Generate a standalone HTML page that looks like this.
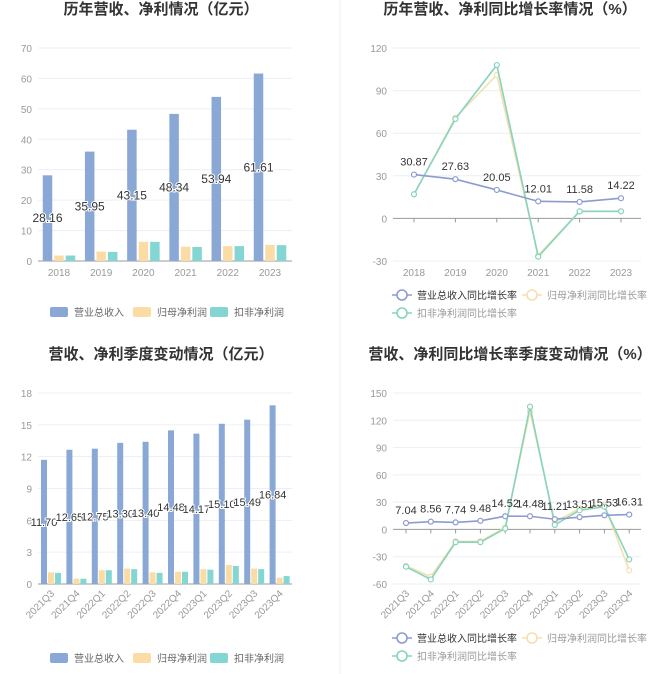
<!DOCTYPE html>
<html><head><meta charset="utf-8"><style>
html,body{margin:0;padding:0;background:#fff;}
svg{display:block;font-family:"Liberation Sans","Noto Sans CJK SC",sans-serif;}
</style></head><body>
<svg id="c" width="670" height="674" viewBox="0 0 670 674" xmlns="http://www.w3.org/2000/svg"></svg>
<script>
// Chart 1 data
const years=["2018","2019","2020","2021","2022","2023"];
const revAnnual=[28.16,35.95,43.15,48.34,53.94,61.61];
const npAnnual=[1.8,3.1,6.3,4.7,4.9,5.3];
const dnpAnnual=[1.8,3.0,6.3,4.6,4.9,5.2];
const ticks1=[0,10,20,30,40,50,60,70];
// Chart 2 data
const revGrowth=[30.87,27.63,20.05,12.01,11.58,14.22];
const npGrowth=[17,71,101,-26,5,5];
const dnpGrowth=[17,70,108,-27,5,5];
const ticks2=[-30,0,30,60,90,120];
// Chart 3 data
const quarters=["2021Q3","2021Q4","2022Q1","2022Q2","2022Q3","2022Q4","2023Q1","2023Q2","2023Q3","2023Q4"];
const revQ=[11.70,12.65,12.75,13.30,13.40,14.48,14.17,15.10,15.49,16.84];
const npQ=[1.1,0.5,1.3,1.45,1.1,1.15,1.4,1.8,1.45,0.6];
const dnpQ=[1.05,0.5,1.3,1.4,1.05,1.15,1.35,1.7,1.4,0.75];
const ticks3=[0,3,6,9,12,15,18];
// Chart 4 data
const revQG=[7.04,8.56,7.74,9.48,14.52,14.48,11.21,13.51,15.53,16.31];
const npQG=[-40,-52,-13,-13,2,130,8,23,27,-45];
const dnpQG=[-41,-55,-14,-14,1,135,5,21,25,-33];
const ticks4=[-60,-30,0,30,60,90,120,150];

const svg=document.getElementById('c');
const NS="http://www.w3.org/2000/svg";
function mk(tag,attrs,parent){const e=document.createElementNS(NS,tag);for(const k in attrs)e.setAttribute(k,attrs[k]);(parent||svg).appendChild(e);return e;}
function txt(s,attrs,parent){const e=mk('text',attrs,parent);e.textContent=s;return e;}
const BLUE="#8aa8d6",GOLD="#fbdca5",TEAL="#84d6d3",LBLUE="#8c9ccf",LGOLD="#f5dfae",LTEAL="#86d4bd";

let d=mk('line',{x1:340,y1:0,x2:340,y2:674,stroke:"#f0f0f0"});



function axisY(g,ticks,ymap,x0,x1,name){
  ticks.forEach(t=>{
    const l=mk('line',{x1:x0,x2:x1,y1:ymap(t),y2:ymap(t),stroke:t===0?"#999":"#eceff3"},g);
    
    
    const tt=txt(String(t),{x:x0-6,y:ymap(t)+4,"text-anchor":"end","font-size":10,fill:"#999"},g);
    
    
  });
}
function title(s,x,y,name){const t=txt(s,{x:x,y:y,"text-anchor":"middle","font-size":15,"font-weight":"bold",fill:"#333"});}

function barChart(cfg){
  const g=mk('g',{});
  
  
  const ymap=v=>cfg.y0-(v-cfg.ymin)*(cfg.y0-cfg.ytop)/(cfg.ymax-cfg.ymin);
  const xmap=i=>cfg.xc0+i*cfg.step;
  axisY(g,cfg.ticks,ymap,cfg.px0,cfg.px1,'y-axis');
  const series=[[cfg.a,BLUE,'revenue-bar'],[cfg.b,GOLD,'net-profit-bar'],[cfg.c,TEAL,'deducted-profit-bar']];
  cfg.cats.forEach((c,i)=>{
    const cx=xmap(i);
    series.forEach((s,k)=>{
      const x=cx+(k-1)*(cfg.bw+cfg.gap)-cfg.bw/2;
      const r=mk('rect',{x:x,y:ymap(s[0][i]),width:cfg.bw,height:ymap(0)-ymap(s[0][i]),fill:s[1]},g);
      
      
    });
    const vx=cx-(cfg.bw+cfg.gap);
    const lb=txt(cfg.a[i].toFixed(2),{x:vx,y:(ymap(cfg.a[i])+ymap(0))/2+4,"text-anchor":"middle","font-size":cfg.lfs,fill:"#333",stroke:"#fff","stroke-width":2,"paint-order":"stroke"},g);
    
    
    let tl;
    if(cfg.rot){tl=txt(c,{x:cx+4,y:ymap(0)+10,"text-anchor":"end","font-size":10,fill:"#999",transform:`rotate(-45 ${cx+4} ${ymap(0)+10})`},g);}
    else{tl=txt(c,{x:cx,y:ymap(0)+15,"text-anchor":"middle","font-size":10,fill:"#999"},g);}
    
    
  });
  const leg=[["营业总收入",BLUE,50],["归母净利润",GOLD,133],["扣非净利润",TEAL,210]];
  leg.forEach(l=>{
    const r=mk('rect',{x:l[2],y:cfg.ly-5,width:18,height:10,rx:2,fill:l[1]},g);
    
    
    const t=txt(l[0],{x:l[2]+24,y:cfg.ly+4,"font-size":10,fill:"#666"},g);
    
    
  });
}

function lineChart(cfg){
  const g=mk('g',{});
  
  
  const ymap=v=>cfg.y0-(v-cfg.ymin)*(cfg.y0-cfg.ytop)/(cfg.ymax-cfg.ymin);
  const xmap=i=>cfg.xc0+i*cfg.step;
  axisY(g,cfg.ticks,ymap,cfg.px0,cfg.px1,'y-axis');
  cfg.cats.forEach((c,i)=>{
    const cx=xmap(i);
    const tk=mk('line',{x1:cx,x2:cx,y1:ymap(0),y2:ymap(0)+4,stroke:"#999"},g);
    
    
    let tl;
    if(cfg.rot){tl=txt(c,{x:cx+4,y:cfg.y0+10,"text-anchor":"end","font-size":10,fill:"#999",transform:`rotate(-45 ${cx+4} ${cfg.y0+10})`},g);}
    else{tl=txt(c,{x:cx,y:cfg.y0+15,"text-anchor":"middle","font-size":10,fill:"#999"},g);}
    
    
  });
  const series=[[cfg.b,LGOLD,'net-profit-growth'],[cfg.c,LTEAL,'deducted-profit-growth'],[cfg.a,LBLUE,'revenue-growth']];
  series.forEach(s=>{
    const p=mk('polyline',{points:s[0].map((v,i)=>xmap(i)+","+ymap(v)).join(" "),fill:"none",stroke:s[1],"stroke-width":1.6},g);
    
    
    s[0].forEach((v,i)=>{
      const ci=mk('circle',{cx:xmap(i),cy:ymap(v),r:2.5,fill:"#fff",stroke:s[1],"stroke-width":1.2},g);
      
      
    });
  });
  cfg.a.forEach((v,i)=>{
    const t=txt(v.toFixed(2),{x:xmap(i),y:ymap(v)-9,"text-anchor":"middle","font-size":cfg.lfs,fill:"#333"},g);
    
    
  });
  const leg=[["营业总收入同比增长率",LBLUE,cfg.lx,cfg.ly,"#333"],["归母净利润同比增长率",LGOLD,cfg.lx+130,cfg.ly,"#999"],["扣非净利润同比增长率",LTEAL,cfg.lx,cfg.ly+18,"#999"]];
  leg.forEach(l=>{
    const ln=mk('line',{x1:l[2],x2:l[2]+20,y1:l[3],y2:l[3],stroke:l[1],"stroke-width":1.6},g);
    
    
    const ci=mk('circle',{cx:l[2]+10,cy:l[3],r:5,fill:"#fff",stroke:l[1],"stroke-width":1.6},g);
    
    
    const t=txt(l[0],{x:l[2]+25,y:l[3]+4,"font-size":10,fill:l[4]},g);
    
    
  });
}

title("历年营收、净利情况（亿元）",161,14,'chart1-title');
barChart({name:'annual-revenue-profit-chart',cats:years,a:revAnnual,b:npAnnual,c:dnpAnnual,ticks:ticks1,ymin:0,ymax:70,y0:261,ytop:48,px0:38,px1:292,xc0:59,step:42.2,bw:9.5,gap:2,lfs:12,rot:false,ly:312});

title("历年营收、净利同比增长率情况（%）",510,14,'chart2-title');
lineChart({name:'annual-growth-chart',cats:years,a:revGrowth,b:npGrowth,c:dnpGrowth,ticks:ticks2,ymin:-30,ymax:120,y0:261,ytop:48,px0:393,px1:641,xc0:414,step:41.4,lfs:11,rot:false,lx:392,ly:295});

title("营收、净利季度变动情况（亿元）",161,359,'chart3-title');
barChart({name:'quarterly-revenue-profit-chart',cats:quarters,a:revQ,b:npQ,c:dnpQ,ticks:ticks3,ymin:0,ymax:18,y0:584,ytop:393,px0:38,px1:292,xc0:51,step:25.4,bw:6,gap:1,lfs:11,rot:true,ly:658});

title("营收、净利同比增长率季度变动情况（%）",510,359,'chart4-title');
lineChart({name:'quarterly-growth-chart',cats:quarters,a:revQG,b:npQG,c:dnpQG,ticks:ticks4,ymin:-60,ymax:150,y0:584,ytop:393,px0:393,px1:641,xc0:406,step:24.8,lfs:11,rot:true,lx:392,ly:638});
</script>
</body></html>
